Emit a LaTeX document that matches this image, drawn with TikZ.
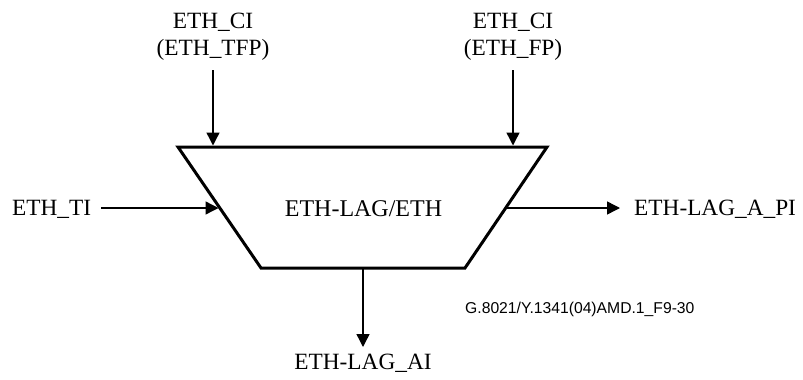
\documentclass[tikz,border=0pt]{standalone}
\usepackage{fontspec}
\setmainfont{Liberation Serif}
\newfontfamily\codefont{Liberation Sans}
\usetikzlibrary{arrows.meta}
\begin{document}
\begin{tikzpicture}[x=1pt,y=-1pt,
  lbl/.style={font=\fontsize{23.3}{27}\selectfont, inner sep=0pt, anchor=base},
  code/.style={font=\codefont\fontsize{15.7}{18}\selectfont, inner sep=0pt, anchor=base west},
  conn/.style={line width=1.4pt, -{Triangle[length=13pt,width=13pt]}},
  block/.style={line width=3pt, line join=miter}]
\useasboundingbox (0,0) rectangle (803,380);
% trapezoid
\coordinate (tl) at (178,147);
\coordinate (tr) at (547,147);
\coordinate (br) at (465,268);
\coordinate (bl) at (261,268);
\draw[block] (tl) -- (tr) -- (br) -- (bl) -- cycle;
\node[lbl,font=\fontsize{24}{28}\selectfont] (fn) at (363.5,216.7) {ETH-LAG/ETH};
% top labels
\node[lbl] (ci1) at (213,28) {ETH\_CI};
\node[lbl] (tfp) at (213,55) {(ETH\_TFP)};
\node[lbl] (ci2) at (513,28) {ETH\_CI};
\node[lbl] (fp) at (513,55) {(ETH\_FP)};
\node[lbl,anchor=base west] (ti) at (12,215.5) {ETH\_TI};
\node[lbl,anchor=base west] (pi) at (634,215.5) {ETH-LAG\_A\_PI};
\node[lbl] (ai) at (363,369) {ETH-LAG\_AI};
\node[code] (id) at (465,313) {G.8021/Y.1341(04)AMD.1\_F9-30};
% connector ends
\coordinate (s1) at (213,70);
\coordinate (e1) at (213,145.5);
\coordinate (s2) at (513,70);
\coordinate (e2) at (513,145.5);
\coordinate (s3) at (101,208);
\coordinate (e3) at (218.5,208);
\coordinate (s4) at (506,208);
\coordinate (e4) at (620,208);
\coordinate (s5) at (363,268);
\coordinate (e5) at (363,347);
\draw[conn] (s1) -- (e1);
\draw[conn] (s2) -- (e2);
\draw[conn] (s3) -- (e3);
\draw[conn] (s4) -- (e4);
\draw[conn] (s5) -- (e5);
\end{tikzpicture}
\end{document}
